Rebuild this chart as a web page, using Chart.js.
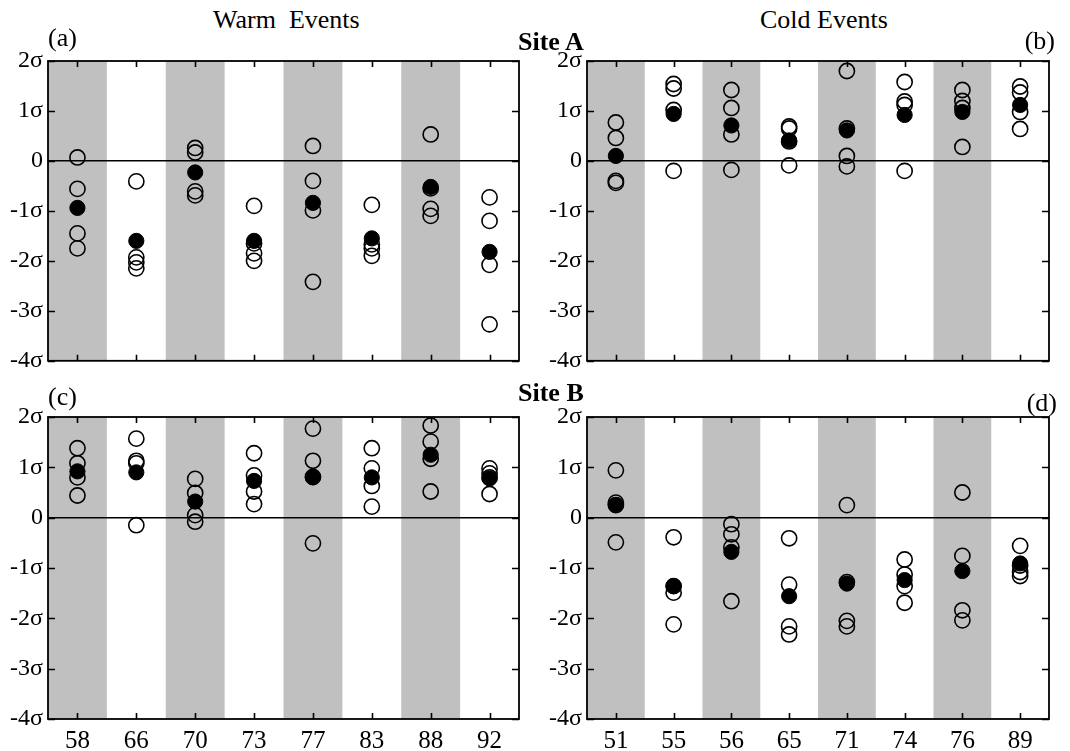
<!DOCTYPE html>
<html>
<head>
<meta charset="utf-8">
<script src="https://cdn.jsdelivr.net/npm/chart.js@4"></script>
<style>
  body { margin: 0; background: #fff; width: 1070px; height: 751px; position: relative; overflow: hidden;
         font-family: 'Liberation Serif', 'Times New Roman', serif; color: #000; }
  canvas { position: absolute; }
  .txt { position: absolute; font-size: 26px; line-height: 26px; white-space: pre; z-index: 2; }
  .bold { font-weight: bold; }
</style>
</head>
<body>
<div class="txt" style="left:213px; top:7px;">Warm  Events</div>
<div class="txt" style="left:760px; top:7px;">Cold Events</div>
<div class="txt bold" style="left:518px; top:29px;">Site A</div>
<div class="txt bold" style="left:518px; top:380px;">Site B</div>
<div class="txt" style="left:48px; top:25px;">(a)</div>
<div class="txt" style="right:15px; top:28px;">(b)</div>
<div class="txt" style="left:48px; top:384px;">(c)</div>
<div class="txt" style="right:13px; top:390px;">(d)</div>

<canvas id="panelA" width="535" height="330" style="left:0px; top:40px;"></canvas>
<canvas id="panelB" width="535" height="330" style="left:535px; top:40px;"></canvas>
<canvas id="panelC" width="535" height="355" style="left:0px; top:396px;"></canvas>
<canvas id="panelD" width="535" height="355" style="left:535px; top:396px;"></canvas>

<script>
const warmLabels = ['58', '66', '70', '73', '77', '83', '88', '92'];
const coldLabels = ['51', '55', '56', '65', '71', '74', '76', '89'];

const yTickValues = [-4, -3, -2, -1, 0, 1, 2];
const yTickText = ['-4σ', '-3σ', '-2σ', '-1σ', '0', '1σ', '2σ'];

// open circles: four members per event, filled circle: event mean
const siteAWarm = [
    [0.07, -0.56, -1.45, -1.75],
    [-0.41, -1.93, -2.03, -2.15],
    [0.26, 0.17, -0.61, -0.69],
    [-0.90, -1.65, -1.85, -2.00],
    [0.30, -0.40, -0.99, -2.42],
    [-0.88, -1.67, -1.75, -1.90],
    [0.53, -0.55, -0.96, -1.10],
    [-0.73, -1.20, -2.08, -3.27]
];
const siteAWarmMean = [-0.94, -1.60, -0.23, -1.60, -0.84, -1.55, -0.52, -1.82];

const siteACold = [
    [0.77, 0.46, -0.40, -0.44],
    [1.54, 1.45, 1.02, -0.20],
    [1.42, 1.06, 0.53, -0.18],
    [0.69, 0.65, 0.39, -0.09],
    [1.80, 0.65, 0.10, -0.11],
    [1.58, 1.19, 1.12, -0.20],
    [1.42, 1.20, 1.06, 0.28],
    [1.49, 1.37, 0.98, 0.64]
];
const siteAColdMean = [0.10, 0.94, 0.71, 0.41, 0.61, 0.92, 0.98, 1.12];

const siteBWarm = [
    [1.38, 1.08, 0.80, 0.44],
    [1.57, 1.13, 1.08, -0.15],
    [0.77, 0.49, 0.05, -0.08],
    [1.28, 0.84, 0.52, 0.27],
    [1.77, 1.13, 0.81, -0.51],
    [1.38, 0.98, 0.63, 0.22],
    [1.83, 1.51, 1.17, 0.52],
    [0.98, 0.88, 0.80, 0.47]
];
const siteBWarmMean = [0.92, 0.90, 0.32, 0.73, 0.80, 0.80, 1.25, 0.78];

const siteBCold = [
    [0.94, 0.30, 0.25, -0.49],
    [-0.39, -1.36, -1.49, -2.12],
    [-0.13, -0.33, -0.59, -1.66],
    [-0.41, -1.33, -2.16, -2.32],
    [0.25, -1.28, -2.05, -2.16],
    [-0.83, -1.13, -1.36, -1.69],
    [0.50, -0.76, -1.84, -2.04],
    [-0.56, -0.95, -1.08, -1.16]
];
const siteBColdMean = [0.25, -1.36, -0.68, -1.56, -1.31, -1.24, -1.06, -0.91];

Chart.defaults.font.family = "'Liberation Serif', 'Times New Roman', serif";
Chart.defaults.color = '#000';

// gray bands behind every other event
const bandsPlugin = {
    id: 'bands',
    beforeDraw(chart) {
        const { ctx, chartArea, scales } = chart;
        const x = scales.x;
        const n = x.getLabels().length;
        const w = (chartArea.right - chartArea.left) / n;
        ctx.save();
        ctx.fillStyle = '#c0c0c0';
        for (let i = 0; i < n; i += 2) {
            const cx = x.getPixelForValue(i);
            ctx.fillRect(cx - w / 2, chartArea.top, w, chartArea.bottom - chartArea.top);
        }
        ctx.restore();
    }
};

// box round the plot with inward ticks on all four sides
const framePlugin = {
    id: 'frame',
    afterDraw(chart) {
        const { ctx, chartArea, scales } = chart;
        const { left, right, top, bottom } = chartArea;
        ctx.save();
        ctx.strokeStyle = '#000';
        ctx.lineWidth = 1.6;
        ctx.beginPath();
        scales.x.ticks.forEach((t, i) => {
            const px = Math.round(scales.x.getPixelForTick(i)) + 0.5;
            ctx.moveTo(px, top); ctx.lineTo(px, top + 6);
            ctx.moveTo(px, bottom); ctx.lineTo(px, bottom - 6);
        });
        scales.y.ticks.forEach((t, i) => {
            const py = Math.round(scales.y.getPixelForTick(i)) + 0.5;
            ctx.moveTo(left, py); ctx.lineTo(left + 7, py);
            ctx.moveTo(right, py); ctx.lineTo(right - 7, py);
        });
        ctx.stroke();
        ctx.lineWidth = 1.8;
        ctx.strokeRect(left, top, right - left, bottom - top);
        ctx.restore();
    }
};

function makePanel(id, labels, events, means, opts) {
    const datasets = [];
    for (let k = 0; k < 4; k++) {
        datasets.push({
            label: 'member ' + (k + 1),
            data: events.map(e => e[k]),
            showLine: false,
            pointStyle: 'circle',
            pointRadius: 7.6,
            pointBorderWidth: 1.6,
            pointBorderColor: '#000',
            pointBackgroundColor: 'rgba(0,0,0,0)',
            clip: false
        });
    }
    datasets.push({
        label: 'mean',
        data: means,
        showLine: false,
        pointStyle: 'circle',
        pointRadius: 7.6,
        pointBorderWidth: 1,
        pointBorderColor: '#000',
        pointBackgroundColor: '#000',
        clip: false
    });

    new Chart(document.getElementById(id), {
        type: 'line',
        data: { labels: labels, datasets: datasets },
        options: {
            responsive: false,
            animation: false,
            layout: { padding: { top: 21, right: opts.padRight, bottom: opts.padBottom, left: 0 } },
            plugins: { legend: { display: false }, tooltip: { enabled: false } },
            scales: {
                x: {
                    type: 'category',
                    offset: true,
                    grid: { display: false, drawTicks: false },
                    border: { display: false },
                    ticks: { display: opts.showX, font: { size: 25 }, padding: 7, maxRotation: 0 },
                    afterFit: s => {
                        s.height = opts.xHeight;
                        s.paddingLeft = 0;
                        s.paddingRight = 0;
                    }
                },
                y: {
                    min: -4,
                    max: 2,
                    afterBuildTicks: s => { s.ticks = yTickValues.map(v => ({ value: v })); },
                    ticks: {
                        font: { size: 24 },
                        padding: 5,
                        callback: v => yTickText[yTickValues.indexOf(v)]
                    },
                    grid: {
                        drawTicks: false,
                        lineWidth: 1.5,
                        color: c => (c.tick && c.tick.value === 0) ? '#000' : 'rgba(0,0,0,0)'
                    },
                    border: { display: false },
                    afterFit: s => {
                        s.width = opts.yWidth;
                        s.paddingTop = 0;
                        s.paddingBottom = 0;
                    }
                }
            }
        },
        plugins: [bandsPlugin, framePlugin]
    });
}

makePanel('panelA', warmLabels, siteAWarm, siteAWarmMean, { yWidth: 48, padRight: 16, padBottom: 7, xHeight: 0, showX: false });
makePanel('panelB', coldLabels, siteACold, siteAColdMean, { yWidth: 52, padRight: 21, padBottom: 7, xHeight: 0, showX: false });
makePanel('panelC', warmLabels, siteBWarm, siteBWarmMean, { yWidth: 48, padRight: 16, padBottom: 0, xHeight: 32, showX: true });
makePanel('panelD', coldLabels, siteBCold, siteBColdMean, { yWidth: 52, padRight: 21, padBottom: 0, xHeight: 32, showX: true });
</script>
</body>
</html>
